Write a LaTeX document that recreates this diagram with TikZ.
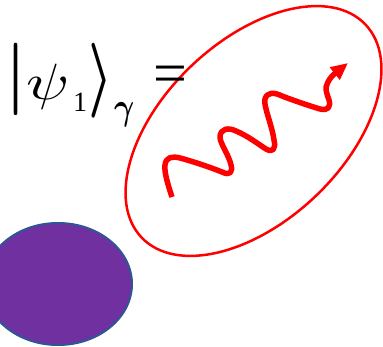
\documentclass[tikz,border=0pt]{standalone}
\usepackage{fontspec}
\setmainfont{Liberation Serif}
\usepackage{graphicx}
\usetikzlibrary{arrows.meta,shapes.geometric}
\definecolor{ppurple}{HTML}{7030A0}
\definecolor{pborder}{HTML}{2F5597}
\definecolor{pred}{HTML}{FF0000}
\tikzset{
  glyph/.style={inner sep=0pt, outer sep=0pt},
  wave/.style={draw=pred, line width=5.5pt, line join=round,
    -{Triangle[length=17pt,width=15pt]}},
  blob/.style={ellipse, fill=ppurple, draw=pborder, line width=2pt, inner sep=0pt},
  ring/.style={ellipse, draw=pred, line width=2.5pt, inner sep=0pt}
}
\begin{document}
\begin{tikzpicture}[x=1pt,y=-1pt]
\useasboundingbox (0,0) rectangle (383,347);
% purple ellipse
\node[blob, minimum width=148pt, minimum height=122pt] (atom) at (58,284) {};
% red ellipse
\node[ring, minimum width=309pt, minimum height=180pt, rotate=43.6] (photon) at (253.5,131) {};
% equation
\node[glyph] (bar) at (16.2,79.5) {\scalebox{9}[7.24]{$|$}};
\node[glyph, anchor=base west] (psi) at (26,99.5) {\scalebox{6.3}[5.1]{$\psi$}};
\node[glyph, anchor=base west, font=\fontsize{28}{28}\selectfont] (one) at (73,111.5) {1};
\node[glyph, font=\mathversion{bold}] (ket) at (100.5,80.8) {\scalebox{5.5}[7.5]{$\rangle$}};
\node[glyph, anchor=base west, font=\mathversion{bold}] (gam) at (114,119.5) {\scalebox{3.1}[3.8]{$\gamma$}};
\node[glyph, font=\fontsize{60}{60}\selectfont] (eq) at (170.5,80) {=};
% wavy arrow
\coordinate (ws) at (172,197);
\coordinate (wt) at (348,63);
\draw[wave] (ws)
 .. controls (168,185) and (164,172) .. (165,165)
 .. controls (166,157) and (172,156) .. (180,158)
 .. controls (195,162) and (212,168) .. (222,172)
 .. controls (230,176) and (233,172) .. (231,165)
 .. controls (229,155) and (219,142) .. (220,136)
 .. controls (221,129) and (228,127) .. (236,131)
 .. controls (248,136) and (258,144) .. (266,149)
 .. controls (273,153) and (276,149) .. (274,140)
 .. controls (272,125) and (263,105) .. (265,99)
 .. controls (267,92) and (274,92) .. (282,96)
 .. controls (295,101) and (310,106) .. (320,109)
 .. controls (328,111) and (331,107) .. (329,100)
 .. controls (327,94) and (324,88) .. (328,82)
 .. controls (330,78) and (333,75) .. (wt);
\end{tikzpicture}
\end{document}
